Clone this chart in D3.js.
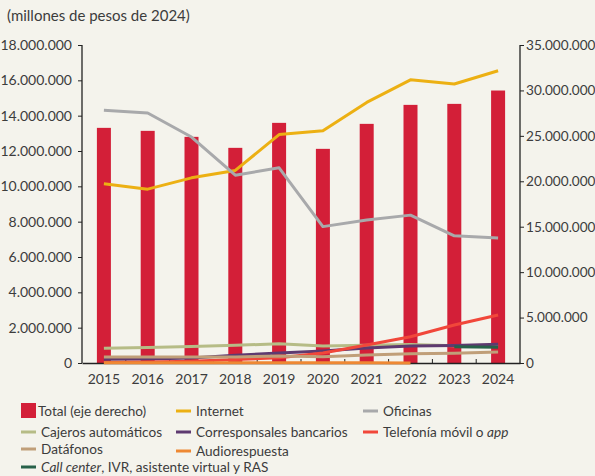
<!DOCTYPE html>
<html>
<head>
<meta charset="utf-8">
<script src="https://cdn.jsdelivr.net/npm/d3@7"></script>
<style>
  body { margin: 0; background: #f4f3ec; }
  svg { display: block; }
  text { font-family: Lato, "Noto Sans", sans-serif; fill: #3c3c3c; }
</style>
</head>
<body>
<div id="chart"></div>
<script>
// años
const years = ['2015', '2016', '2017', '2018', '2019', '2020', '2021', '2022', '2023', '2024'];

// total (eje derecho)
const total = [25880000, 25550000, 24890000, 23680000, 26430000, 23570000, 26320000, 28410000, 28520000, 29990000];

// canales (eje izquierdo)
const internet = [10140000, 9840000, 10480000, 10900000, 12930000, 13140000, 14750000, 16030000, 15790000, 16540000];
const oficinas = [14300000, 14150000, 12790000, 10630000, 11050000, 7720000, 8100000, 8370000, 7200000, 7080000];
const cajeros = [830000, 880000, 940000, 1000000, 1090000, 960000, 1000000, 1050000, 980000, 960000];
const corresponsales = [210000, 230000, 280000, 440000, 560000, 680000, 850000, 960000, 990000, 1060000];
const telefonia = [30000, 50000, 100000, 200000, 300000, 570000, 1020000, 1490000, 2150000, 2720000];
const datafonos = [340000, 340000, 340000, 340000, 400000, 360000, 450000, 530000, 550000, 620000];
const audiorespuesta = [20000, 20000, 20000, 20000, 15000, 15000, 10000, 0, null, null];
const callCenter = [null, null, null, null, null, null, null, null, 920000, 890000];

const leftTicks = [0, 2e6, 4e6, 6e6, 8e6, 10e6, 12e6, 14e6, 16e6, 18e6];
const rightTicks = [0, 5e6, 10e6, 15e6, 20e6, 25e6, 30e6, 35e6];

const series = [
    { name: 'Internet', values: internet, color: '#ecb013', w: 3 },
    { name: 'Oficinas', values: oficinas, color: '#a8a9ab', w: 3 },
    { name: 'Cajeros automáticos', values: cajeros, color: '#b6bc86', w: 3 },
    { name: 'Corresponsales bancarios', values: corresponsales, color: '#5e3a70', w: 3 },
    { name: 'Telefonía móvil o app', values: telefonia, color: '#f1473a', w: 3 },
    { name: 'Datáfonos', values: datafonos, color: '#c09f79', w: 3 },
    { name: 'Audiorespuesta', values: audiorespuesta, color: '#ee8833', w: 3 },
    { name: 'Call center', values: callCenter, color: '#276149', w: 3 }
];

const width = 595, height = 476;
const margin = { top: 45, right: 75, bottom: 113, left: 82 };

const svg = d3.select('#chart').append('svg')
    .attr('width', width)
    .attr('height', height);

svg.append('rect').attr('width', width).attr('height', height).attr('fill', '#f4f3ec');

const x = d3.scaleBand().domain(years).range([margin.left, width - margin.right]).paddingInner(0);
const yL = d3.scaleLinear().domain([0, 18e6]).range([height - margin.bottom, margin.top]);
const yR = d3.scaleLinear().domain([0, 35e6]).range([height - margin.bottom, margin.top]);

const fmt = d => d3.format(',')(d).replace(/,/g, '.');

// título
svg.append('text')
    .attr('x', 7).attr('y', 21)
    .style('font-size', '15px')
    .text('(millones de pesos de 2024)');

// barras
const barW = 14;
svg.selectAll('.bar')
    .data(total)
    .join('rect')
    .attr('class', 'bar')
    .attr('x', (d, i) => x(years[i]) + x.bandwidth() / 2 - barW / 2)
    .attr('width', barW)
    .attr('y', d => yR(d))
    .attr('height', d => yR(0) - yR(d))
    .attr('fill', '#d31f38');

// ejes
const axL = svg.append('g')
    .attr('transform', 'translate(' + margin.left + ',0)')
    .call(d3.axisLeft(yL).tickValues(leftTicks).tickFormat(fmt).tickSize(4).tickPadding(6));

const axR = svg.append('g')
    .attr('transform', 'translate(' + (width - margin.right) + ',0)')
    .call(d3.axisRight(yR).tickValues(rightTicks).tickFormat(fmt).tickSize(4).tickPadding(2));

const axB = svg.append('g')
    .attr('transform', 'translate(0,' + (height - margin.bottom) + ')')
    .call(d3.axisBottom(x).tickSize(0).tickPadding(11));

// marcas entre categorias
axB.selectAll('.sep')
    .data(years.slice(1))
    .join('line')
    .attr('class', 'sep')
    .attr('x1', d => x(d)).attr('x2', d => x(d))
    .attr('y1', 0).attr('y2', -4)
    .attr('stroke', '#222');

[axL, axR, axB].forEach(a => {
    a.selectAll('.domain').attr('stroke', '#222').attr('stroke-width', 1.3);
    a.selectAll('.tick line').attr('stroke', '#222');
    a.selectAll('text').style('font-size', '14px').attr('fill', '#3c3c3c').style('font-family', 'Lato, sans-serif');
});
axR.selectAll('text').style('font-size', '13.6px');
axL.select('.domain').attr('d', 'M0,' + yL(18e6) + 'V' + yL(0));
axR.select('.domain').attr('d', 'M0,' + yR(35e6) + 'V' + yR(0));

// lineas (encima de los ejes)
const line = d3.line()
    .defined(d => d != null)
    .x((d, i) => x(years[i]) + x.bandwidth() / 2)
    .y(d => yL(d));

series.forEach(s => {
    svg.append('path')
        .datum(s.values)
        .attr('fill', 'none')
        .attr('stroke', s.color)
        .attr('stroke-width', s.w)
        .attr('stroke-linejoin', 'round')
        .attr('d', line);
});

// leyenda
const legend = [
    { label: 'Total (eje derecho)', box: true, color: '#d31f38', x: 21, y: 411 },
    { s: 0, x: 176, y: 411 },
    { s: 1, x: 363, y: 411 },
    { s: 2, x: 21, y: 432 },
    { s: 3, x: 176, y: 432 },
    { s: 4, x: 363, y: 432 },
    { s: 5, x: 21, y: 449 },
    { s: 6, x: 176, y: 451 },
    { s: 7, x: 21, y: 467 }
];

legend.forEach(l => {
    const g = svg.append('g').attr('transform', 'translate(' + l.x + ',' + l.y + ')');
    if (l.box) {
        g.append('rect').attr('x', 0).attr('y', -8).attr('width', 15).attr('height', 15).attr('fill', l.color);
        g.append('text').attr('x', 17).attr('y', 5).style('font-size', '13.6px').text(l.label);
        return;
    }
    const s = series[l.s];
    g.append('line').attr('x1', 0).attr('x2', 15).attr('y1', 0).attr('y2', 0)
        .attr('stroke', s.color).attr('stroke-width', 3);
    const t = g.append('text').attr('x', 20).attr('y', 5).style('font-size', '13.6px');
    if (s.name === 'Telefonía móvil o app') {
        t.append('tspan').text('Telefonía móvil o ');
        t.append('tspan').style('font-style', 'italic').text('app');
    } else if (s.name === 'Call center') {
        t.append('tspan').style('font-style', 'italic').text('Call center');
        t.append('tspan').text(', IVR, asistente virtual y RAS');
    } else {
        t.text(s.name);
    }
});
</script>
</body>
</html>
